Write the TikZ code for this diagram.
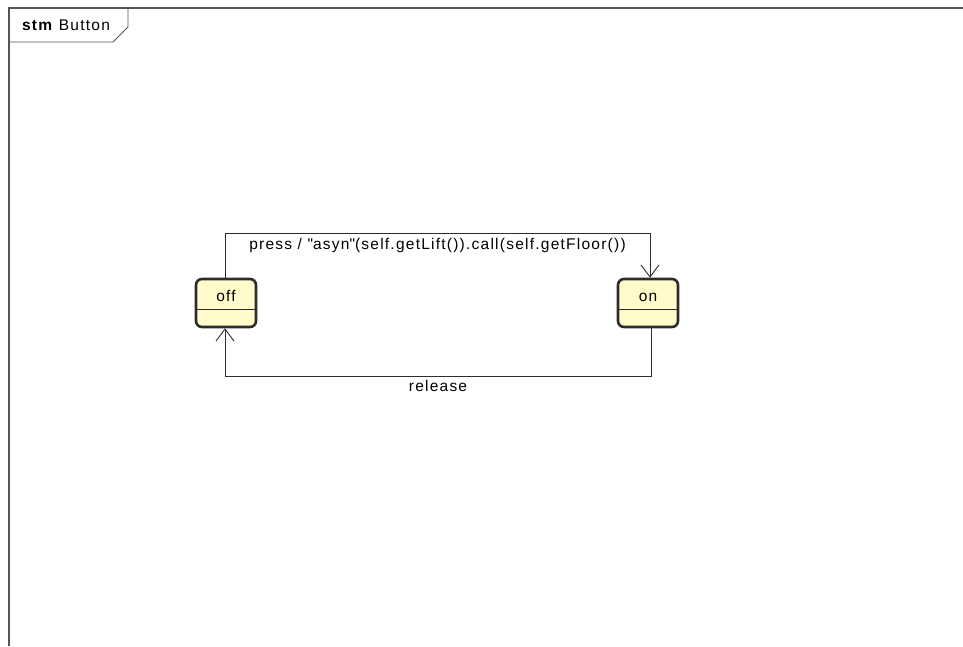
\documentclass[tikz,border=0pt]{standalone}
\usepackage{fontspec}
\setmainfont{Liberation Sans}[LetterSpace=8]
\usepackage{tikz}
\usetikzlibrary{positioning, arrows.meta, calc}

\definecolor{statefill}{RGB}{255,251,203}
\definecolor{linegray}{RGB}{45,45,45}
\definecolor{framegray}{RGB}{85,85,85}

\begin{document}
\begin{tikzpicture}[
  x=1pt, y=-1pt,
  every node/.style={font=\fontsize{15.5}{18}\selectfont, text=black},
  state/.style={draw=linegray, line width=2.6pt, rounded corners=6pt, fill=statefill,
                minimum width=60pt, minimum height=48pt, inner sep=0pt,
                text height=10pt, text depth=14pt},
  divider/.style={draw=linegray, line width=0.9pt},
  trans/.style={draw=linegray, line width=0.9pt,
                -{Straight Barb[length=12pt, width=18pt, line width=0.9pt]}},
  frame/.style={draw=framegray, line width=1.6pt},
  tab/.style={draw=framegray, line width=0.9pt},
  lbl/.style={inner sep=4pt}
]
\useasboundingbox (0,0) rectangle (963,646);

%--- Frame ---
\draw[frame] (9,646) -- (9,8) -- (963,8);
\draw[tab] (9,42) -- (113,42) -- (128,27) -- (128,8);
\node (tabname) at (66,25) {\textbf{stm} Button};

%--- States ---
\node[state] (off) at (226,303) {off};
\draw[divider] ($(off.west)+(0,6)$) -- ($(off.east)+(0,6)$);

\node[state] (on) at (648,303) {on};
\draw[divider] ($(on.west)+(0,6)$) -- ($(on.east)+(0,6)$);

%--- Transitions ---
\draw[trans] ($(off.north)+(-1,0)$) -- ++(0,-44)
  -| node[lbl, below, pos=0.25]{press / \textquotedbl asyn\textquotedbl(self.getLift()).call(self.getFloor())}
  ($(on.north)+(2,0)$);
\draw[trans] ($(on.south)+(3,0)$) -- ++(0,48)
  -| node[lbl, below, pos=0.25]{release}
  ($(off.south)+(-1,0)$);

\end{tikzpicture}
\end{document}
